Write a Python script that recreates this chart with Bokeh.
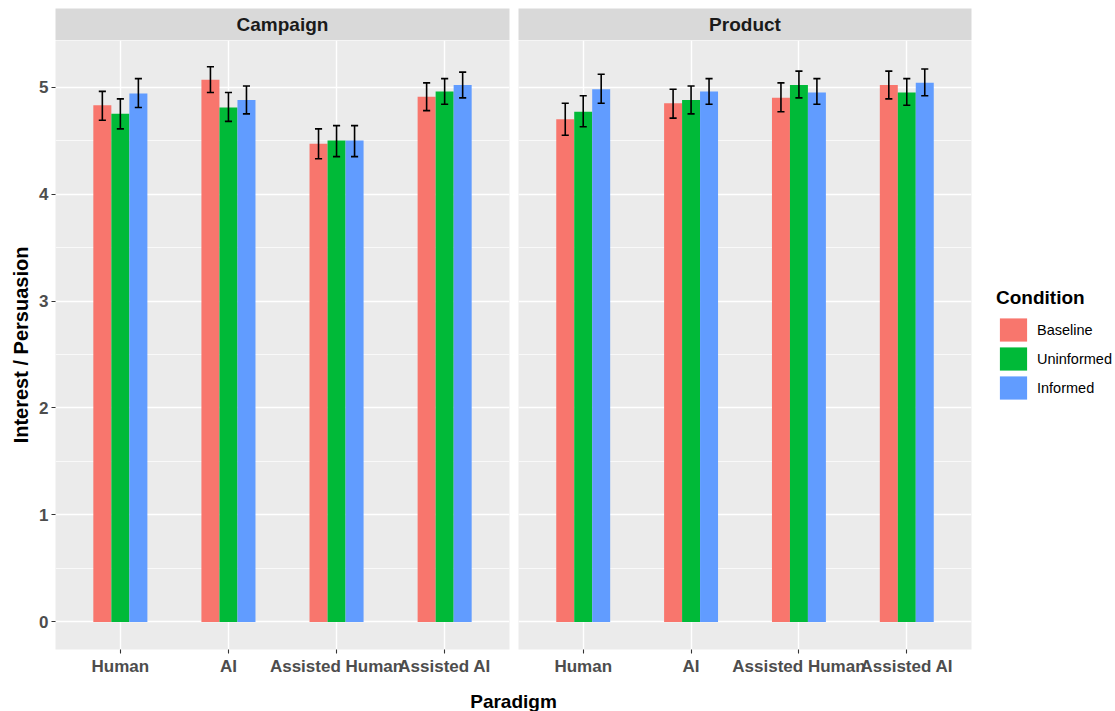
from bokeh.plotting import figure
from bokeh.models import (FactorRange, Range1d, FixedTicker, ColumnDataSource,
                          Legend, LegendItem, Label)
from bokeh.transform import dodge
from bokeh.layouts import column, row
from bokeh.embed import file_html
from bokeh.resources import INLINE

# ---------------- data ----------------
paradigms = ["Human", "AI", "Assisted Human", "Assisted AI"]
conditions = ["Baseline", "Uninformed", "Informed"]
facets = ["Campaign", "Product"]

# Campaign
campaign_baseline_mean = [4.83, 5.07, 4.47, 4.91]
campaign_baseline_lo = [4.69, 4.95, 4.33, 4.78]
campaign_baseline_hi = [4.96, 5.19, 4.61, 5.04]
campaign_uninformed_mean = [4.75, 4.81, 4.50, 4.96]
campaign_uninformed_lo = [4.61, 4.68, 4.35, 4.84]
campaign_uninformed_hi = [4.89, 4.95, 4.64, 5.08]
campaign_informed_mean = [4.94, 4.88, 4.50, 5.02]
campaign_informed_lo = [4.81, 4.75, 4.35, 4.90]
campaign_informed_hi = [5.08, 5.01, 4.64, 5.14]

# Product
product_baseline_mean = [4.70, 4.85, 4.90, 5.02]
product_baseline_lo = [4.55, 4.71, 4.77, 4.89]
product_baseline_hi = [4.85, 4.98, 5.04, 5.15]
product_uninformed_mean = [4.77, 4.88, 5.02, 4.95]
product_uninformed_lo = [4.63, 4.75, 4.90, 4.83]
product_uninformed_hi = [4.92, 5.01, 5.15, 5.08]
product_informed_mean = [4.98, 4.96, 4.95, 5.04]
product_informed_lo = [4.85, 4.84, 4.84, 4.92]
product_informed_hi = [5.12, 5.08, 5.08, 5.17]

y_ticks = [0, 1, 2, 3, 4, 5]
y_minor = [0.5, 1.5, 2.5, 3.5, 4.5]

colors = ["#F8766D", "#00BA38", "#619CFF"]

facet_data = {
    "Campaign": [
        (campaign_baseline_mean, campaign_baseline_lo, campaign_baseline_hi),
        (campaign_uninformed_mean, campaign_uninformed_lo, campaign_uninformed_hi),
        (campaign_informed_mean, campaign_informed_lo, campaign_informed_hi),
    ],
    "Product": [
        (product_baseline_mean, product_baseline_lo, product_baseline_hi),
        (product_uninformed_mean, product_uninformed_lo, product_uninformed_hi),
        (product_informed_mean, product_informed_lo, product_informed_hi),
    ],
}

FONT = "Liberation Sans"
PANEL_BG = "#EBEBEB"
STRIP_BG = "#D9D9D9"
FRAME_H = 609
BAR_W = 0.5 / 3
CAP_HALF = 0.033
LEFT_B = 55
RIGHT_B = 142


def make_panel(facet, left, frame_w):
    p = figure(
        x_range=FactorRange(factors=paradigms, range_padding=0.05),
        y_range=Range1d(-0.258, 5.436),
        frame_width=frame_w, frame_height=FRAME_H,
        output_backend="svg", toolbar_location=None,
        background_fill_color=PANEL_BG, border_fill_color="white",
        outline_line_color=None,
        min_border_left=LEFT_B if left else 0,
        min_border_right=9 if left else RIGHT_B,
        min_border_top=0, min_border_bottom=27,
    )
    ticker = FixedTicker(ticks=y_ticks, minor_ticks=y_minor)
    p.yaxis.ticker = ticker
    p.ygrid.ticker = ticker
    p.ygrid.grid_line_color = "white"
    p.ygrid.grid_line_width = 1.4
    p.ygrid.minor_grid_line_color = "white"
    p.ygrid.minor_grid_line_width = 0.7
    p.xgrid.grid_line_color = "white"
    p.xgrid.grid_line_width = 1.4

    for ax in (p.xaxis, p.yaxis):
        ax.axis_line_color = None
        ax.major_tick_in = 0
        ax.major_tick_out = 4
        ax.major_tick_line_color = "#333333"
        ax.major_tick_line_width = 1.1
        ax.minor_tick_line_color = None
        ax.major_label_text_font = FONT
        ax.major_label_text_font_style = "bold"
        ax.major_label_text_font_size = "17px"
        ax.major_label_text_color = "#4D4D4D"
        ax.major_label_standoff = 3

    if left:
        p.yaxis.axis_label = "Interest / Persuasion"
        p.yaxis.axis_label_text_font = FONT
        p.yaxis.axis_label_text_font_style = "bold"
        p.yaxis.axis_label_text_font_size = "20px"
        p.yaxis.axis_label_text_color = "black"
        p.yaxis.axis_label_standoff = 4
    else:
        p.yaxis.visible = False

    bars = []
    for i, (mean, lo, hi) in enumerate(facet_data[facet]):
        off = (i - 1) * BAR_W
        src = ColumnDataSource(dict(paradigm=paradigms, mean=mean, lo=lo, hi=hi))
        r = p.vbar(x=dodge("paradigm", off, range=p.x_range), top="mean", bottom=0,
                   width=BAR_W, source=src, fill_color=colors[i], line_color=None)
        bars.append((r, src, off))
    for r, src, off in bars:
        p.segment(x0=dodge("paradigm", off, range=p.x_range),
                  x1=dodge("paradigm", off, range=p.x_range),
                  y0="lo", y1="hi", source=src, line_color="black", line_width=1.6)
        for end in ("lo", "hi"):
            p.segment(x0=dodge("paradigm", off - CAP_HALF, range=p.x_range),
                      x1=dodge("paradigm", off + CAP_HALF, range=p.x_range),
                      y0=end, y1=end, source=src, line_color="black", line_width=1.6)
    return p, [b[0] for b in bars]


def make_strip(text, left, frame_w):
    s = figure(
        frame_width=frame_w, frame_height=32,
        x_range=Range1d(0, 1), y_range=Range1d(0, 1),
        x_axis_type=None, y_axis_type=None,
        output_backend="svg", toolbar_location=None,
        background_fill_color=STRIP_BG, border_fill_color="white",
        outline_line_color=None,
        min_border_left=LEFT_B if left else 0,
        min_border_right=9 if left else RIGHT_B,
        min_border_top=8, min_border_bottom=0,
    )
    s.add_layout(Label(x=0.5, y=0.5, text=text, text_align="center",
                       text_baseline="middle", text_font=FONT,
                       text_font_style="bold", text_font_size="19px",
                       text_color="#1A1A1A"))
    return s


p1, _ = make_panel("Campaign", True, 454)
p2, rends = make_panel("Product", False, 453)

legend = Legend(
    items=[LegendItem(label=c, renderers=[r]) for c, r in zip(conditions, rends)],
    title="Condition", location=(25, 247),
    glyph_width=34, glyph_height=29, spacing=0, padding=0, margin=0,
    label_standoff=7, label_text_font=FONT, label_text_font_size="14.5px",
    label_text_color="black",
    title_text_font=FONT, title_text_font_size="19px", title_text_font_style="bold",
    title_text_color="black", title_standoff=6,
    border_line_color=None, background_fill_alpha=0,
)
p2.add_layout(legend, "right")

s1 = make_strip("Campaign", True, 454)
s2 = make_strip("Product", False, 453)

TOTAL_W = LEFT_B + 454 + 9 + 453 + RIGHT_B
XL_H = 33
xl = figure(width=TOTAL_W, height=XL_H, x_range=Range1d(0, TOTAL_W), y_range=Range1d(0, XL_H),
            x_axis_type=None, y_axis_type=None, output_backend="svg",
            toolbar_location=None, outline_line_color=None, min_border=0,
            background_fill_color="white", border_fill_color="white")
xl.add_layout(Label(x=513, y=10, text="Paradigm", text_align="center",
                    text_baseline="middle", text_font=FONT, text_font_style="bold",
                    text_font_size="19px", text_color="black"))

layout = column(row(s1, s2), row(p1, p2), xl)

open("out.html", "w").write(file_html(layout, INLINE))
